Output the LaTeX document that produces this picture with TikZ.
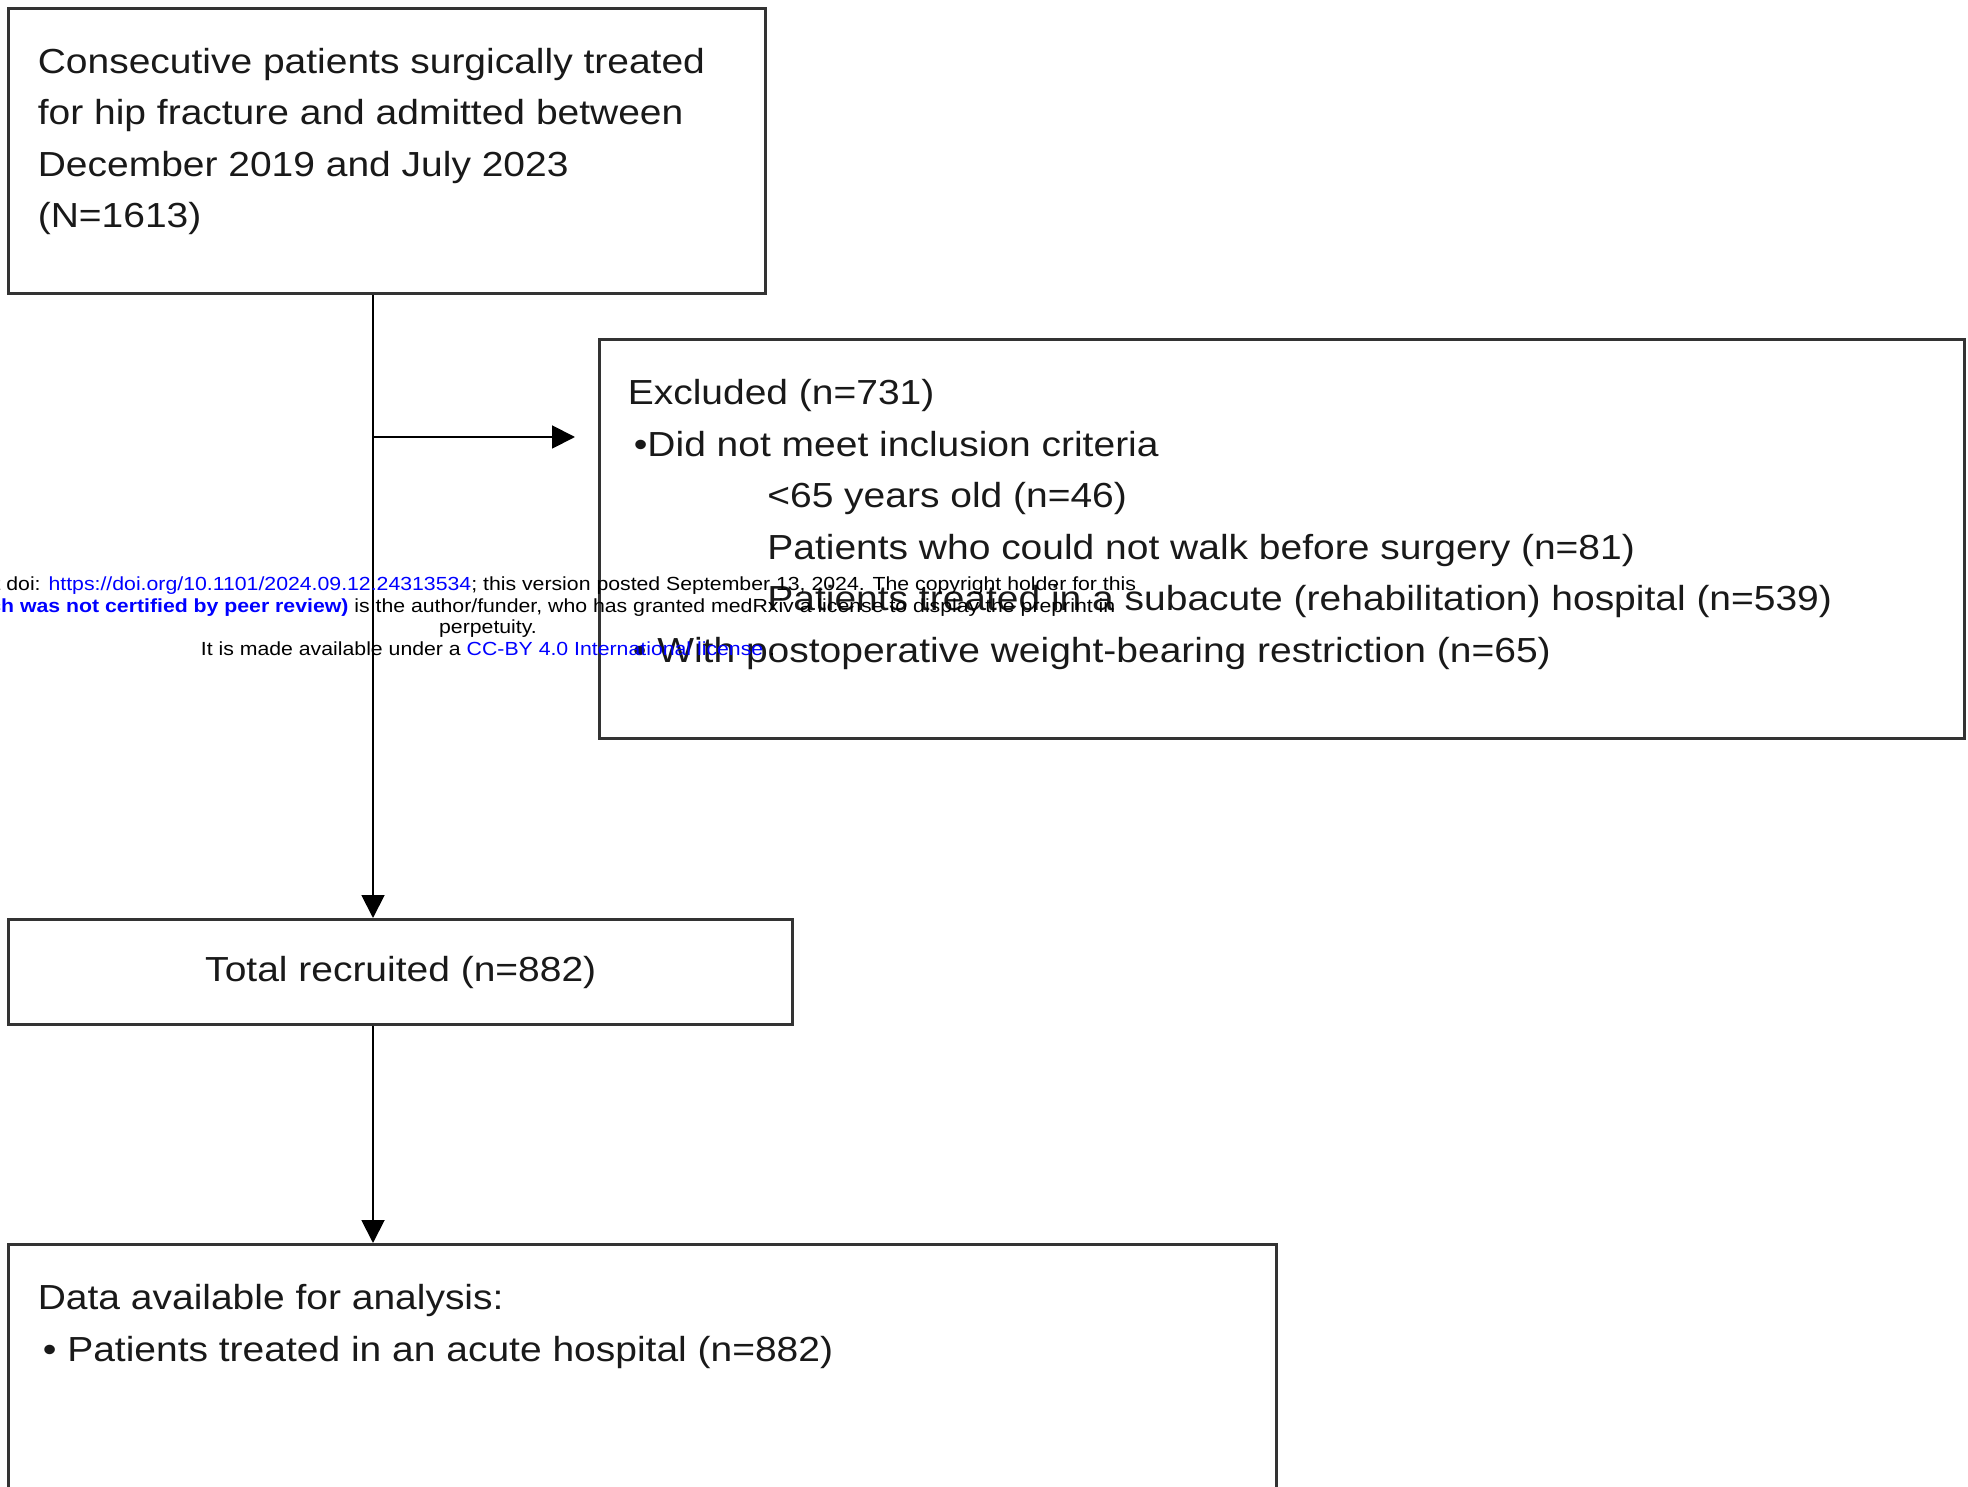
\documentclass[tikz,border=0pt]{standalone}
\usepackage{fontspec}
\setmainfont[FakeStretch=1.12]{Liberation Sans}
\usetikzlibrary{arrows.meta}
\definecolor{linkblue}{RGB}{0,0,255}
\newcommand{\boxfont}{\fontsize{19.8}{29.3}\selectfont}
\newcommand{\notefont}{\fontsize{10.8}{12.2}\selectfont}
\tikzset{box/.style={draw=black!80,line width=1.7pt,inner sep=0pt,anchor=north west,font=\boxfont,text=black!90}}
\tikzset{boxtext/.style={anchor=base west,align=left,inner sep=0pt,font=\boxfont,text=black!90}}
\tikzset{flow/.style={line width=1.1pt,-{Triangle[length=0.46cm,width=0.46cm]}}}
\tikzset{note/.style={anchor=base,align=center,inner sep=0pt,font=\notefont}}

\begin{document}
\begin{tikzpicture}
    \useasboundingbox (0,0) rectangle (39.36,-29.74);
    \node[box,minimum width=15.13cm,minimum height=5.70cm] (start) at (0.15,-0.14) {};
    \node[box,minimum width=27.30cm,minimum height=7.98cm] (excluded) at (11.96,-6.76) {};
    \node[box,minimum width=15.67cm,minimum height=2.10cm,yshift=-0.05cm] (recruited) at (0.15,-18.31) {Total recruited (n=882)};
    \node[box,minimum width=25.35cm,minimum height=5.50cm] (analysis) at (0.15,-24.86) {};
    \node[boxtext] (starttext) at (0.75,-4.55) {Consecutive patients surgically treated\\ for hip fracture and admitted between\\ December 2019 and July 2023\\ (N=1613)};
    \node[boxtext] (excludedtext) at (12.55,-13.24) {Excluded (n=731)\\ \hspace*{0.12cm}•Did not meet inclusion criteria\\ \hspace*{2.79cm}<65 years old (n=46)\\ \hspace*{2.79cm}Patients who could not walk before surgery (n=81)\\ \hspace*{2.79cm}Patients treated in a subacute (rehabilitation) hospital (n=539)\\ \hspace*{0.1cm}• With postoperative weight-bearing restriction (n=65)};
    \node[boxtext] (analysistext) at (0.75,-27.22) {Data available for analysis:\\ \hspace*{0.1cm}• Patients treated in an acute hospital (n=882)};
    \coordinate (split) at (7.46,-8.74);
    \draw[flow] (split |- start.south) -- (split |- recruited.north);
    \draw[flow,shorten >=0.46cm] (split) -- (split -| excluded.west);
    \draw[flow] (split |- recruited.south) -- (split |- analysis.north);
    \node[note] (preprint) at (9.76,-13.1) {medRxiv preprint doi: \textcolor{linkblue}{https://doi.org/10.1101/2024.09.12.24313534}; this version posted September 13, 2024. The copyright holder for this\\ \textcolor{linkblue}{\bfseries preprint (which was not certified by peer review)} is the author/funder, who has granted medRxiv a license to display the preprint in\\ perpetuity.\\ It is made available under a \textcolor{linkblue}{CC-BY 4.0 International license} .};
\end{tikzpicture}
\end{document}
